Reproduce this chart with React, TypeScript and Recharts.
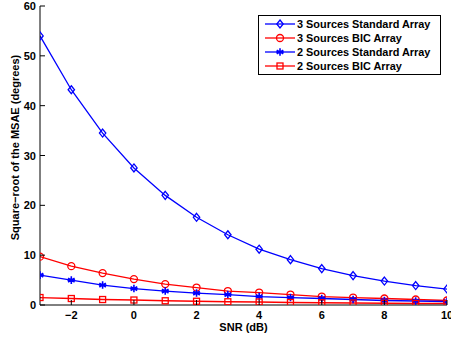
import React from "react";
import { LineChart, Line, XAxis, YAxis, Label } from "recharts";

const snr = [-3, -2, -1, 0, 1, 2, 3, 4, 5, 6, 7, 8, 9, 10];
const src3Std = [54.0, 43.2, 34.5, 27.5, 22.0, 17.6, 14.1, 11.2, 9.1, 7.3, 5.9, 4.8, 3.9, 3.2];
const src3Bic = [9.7, 7.8, 6.4, 5.2, 4.2, 3.5, 2.8, 2.5, 2.1, 1.7, 1.5, 1.3, 1.1, 0.9];
const src2Std = [6.0, 5.0, 4.0, 3.3, 2.8, 2.4, 2.1, 1.7, 1.5, 1.3, 1.1, 0.9, 0.8, 0.7];
const src2Bic = [1.5, 1.3, 1.1, 1.0, 0.85, 0.75, 0.65, 0.6, 0.5, 0.45, 0.4, 0.35, 0.3, 0.3];
const xTicks = [-2, 0, 2, 4, 6, 8, 10];
const yTicks = [0, 10, 20, 30, 40, 50, 60];
const seriesNames = [
  "3 Sources Standard Array",
  "3 Sources BIC Array",
  "2 Sources Standard Array",
  "2 Sources BIC Array",
];
const xLabel = "SNR (dB)";
const yLabel = "Square\u2212root of the MSAE (degrees)";

const data = snr.map((s, i) => ({
  snr: s,
  a: src3Std[i],
  b: src3Bic[i],
  c: src2Std[i],
  d: src2Bic[i],
}));

const FONT = "'Liberation Sans', Arial, sans-serif";
const BLUE = "#0000ff";
const RED = "#ff0000";

type Kind = "diamond" | "circle" | "star" | "square";

function marker(kind: Kind, cx: number, cy: number, color: string, key?: string | number) {
  const sw = 1.3;
  if (kind === "diamond") {
    const r = 4;
    return (
      <path key={key} d={`M${cx},${cy - r}L${cx + r * 0.8},${cy}L${cx},${cy + r}L${cx - r * 0.8},${cy}Z`} fill="none" stroke={color} strokeWidth={sw} />
    );
  }
  if (kind === "circle") {
    return <circle key={key} cx={cx} cy={cy} r={3.5} fill="none" stroke={color} strokeWidth={sw} />;
  }
  if (kind === "square") {
    return <rect key={key} x={cx - 3} y={cy - 3} width={6} height={6} fill="none" stroke={color} strokeWidth={sw} />;
  }
  const r = 3.8;
  const d = r * 0.866;
  return (
    <path
      key={key}
      d={`M${cx},${cy - r}L${cx},${cy + r}M${cx - d},${cy - r / 2}L${cx + d},${cy + r / 2}M${cx - d},${cy + r / 2}L${cx + d},${cy - r / 2}M${cx - r},${cy}L${cx + r},${cy}`}
      fill="none"
      stroke={color}
      strokeWidth={1.6}
    />
  );
}

const dotFn = (kind: Kind, color: string) => (props: any) => {
  const { cx, cy, index } = props;
  if (cx == null || cy == null) return <g key={index} />;
  return marker(kind, cx, cy, color, index);
};

const fmt = (v: number) => (v < 0 ? "\u2212" + Math.abs(v) : String(v));

const BottomTick = (props: any) => {
  const { x, y, payload } = props;
  return (
    <g>
      <line x1={x} y1={y} x2={x} y2={y - 5} stroke="#000" strokeWidth={1} />
      <text x={x} y={y + 14} textAnchor="middle" fontFamily={FONT} fontWeight="bold" fontSize={11} fill="#000">
        {fmt(payload.value)}
      </text>
    </g>
  );
};
const TopTick = (props: any) => {
  const { x, y } = props;
  return <line x1={x} y1={y} x2={x} y2={y + 5} stroke="#000" strokeWidth={1} />;
};
const LeftTick = (props: any) => {
  const { x, y, payload } = props;
  return (
    <g>
      <line x1={x} y1={y} x2={x + 5} y2={y} stroke="#000" strokeWidth={1} />
      <text x={x - 4} y={y + 4} textAnchor="end" fontFamily={FONT} fontWeight="bold" fontSize={11} fill="#000">
        {payload.value}
      </text>
    </g>
  );
};
const RightTick = (props: any) => {
  const { x, y } = props;
  return <line x1={x} y1={y} x2={x - 5} y2={y} stroke="#000" strokeWidth={1} />;
};

const YLabelContent = (props: any) => {
  const vb = props.viewBox || { x: 0, y: 6, width: 40, height: 299 };
  const cx = vb.x + 19;
  const cy = vb.y + vb.height / 2 - 8;
  return (
    <text
      transform={`translate(${cx},${cy}) rotate(-90)`}
      textAnchor="middle"
      fontFamily={FONT}
      fontWeight="bold"
      fontSize={11}
      fill="#000"
    >
      {yLabel}
    </text>
  );
};

const legendItems: { name: string; kind: Kind; color: string }[] = [
  { name: seriesNames[0], kind: "diamond", color: BLUE },
  { name: seriesNames[1], kind: "circle", color: RED },
  { name: seriesNames[2], kind: "star", color: BLUE },
  { name: seriesNames[3], kind: "square", color: RED },
];

const LegendBox = () => (
  <svg width={183} height={60} style={{ display: "block" }}>
    <rect x={0.5} y={0.5} width={182} height={59} fill="#fff" stroke="#000" strokeWidth={1} />
    {legendItems.map((it, i) => {
      const cy = 9 + i * 14;
      return (
        <g key={it.name}>
          <line x1={7} y1={cy} x2={37} y2={cy} stroke={it.color} strokeWidth={1.3} />
          {marker(it.kind, 22, cy, it.color)}
          <text x={39} y={cy + 4} fontFamily={FONT} fontWeight="bold" fontSize={10.9} fill="#000">
            {it.name}
          </text>
        </g>
      );
    })}
  </svg>
);

export default function App() {
  return (
    <div style={{ position: "absolute", left: 0, top: 0, width: 451, height: 341, background: "#fff" }}>
      <LineChart width={451} height={341} data={data} margin={{ top: 6, right: 4, bottom: 0, left: 0 }}>
        <XAxis
          xAxisId="b"
          dataKey="snr"
          type="number"
          domain={[-3, 10]}
          ticks={xTicks}
          allowDataOverflow
          height={36}
          tickSize={0}
          tickMargin={0}
          tick={<BottomTick />}
          axisLine={{ stroke: "#000", strokeWidth: 1 }}
          interval={0}
        >
          <Label
            value={xLabel}
            position="insideBottom"
            offset={10}
            style={{ fontFamily: FONT, fontWeight: "bold", fontSize: 11, fill: "#000" }}
          />
        </XAxis>
        <XAxis
          xAxisId="t"
          orientation="top"
          dataKey="snr"
          type="number"
          domain={[-3, 10]}
          ticks={xTicks}
          allowDataOverflow
          height={0}
          tickSize={0}
          tickMargin={0}
          tick={<TopTick />}
          axisLine={{ stroke: "#000", strokeWidth: 1 }}
          interval={0}
        />
        <YAxis
          yAxisId="l"
          type="number"
          domain={[0, 60]}
          ticks={yTicks}
          allowDataOverflow
          width={40}
          tickSize={0}
          tickMargin={0}
          tick={<LeftTick />}
          axisLine={{ stroke: "#000", strokeWidth: 1 }}
          interval={0}
        >
          <Label content={<YLabelContent />} />
        </YAxis>
        <YAxis
          yAxisId="r"
          orientation="right"
          type="number"
          domain={[0, 60]}
          ticks={yTicks}
          allowDataOverflow
          width={0}
          tickSize={0}
          tickMargin={0}
          tick={<RightTick />}
          axisLine={{ stroke: "#000", strokeWidth: 1 }}
          interval={0}
        />
        <Line xAxisId="b" yAxisId="l" dataKey="a" name={seriesNames[0]} stroke={BLUE} strokeWidth={1.3} dot={dotFn("diamond", BLUE)} isAnimationActive={false} />
        <Line xAxisId="b" yAxisId="l" dataKey="b" name={seriesNames[1]} stroke={RED} strokeWidth={1.3} dot={dotFn("circle", RED)} isAnimationActive={false} />
        <Line xAxisId="b" yAxisId="l" dataKey="c" name={seriesNames[2]} stroke={BLUE} strokeWidth={1.3} dot={dotFn("star", BLUE)} isAnimationActive={false} />
        <Line xAxisId="b" yAxisId="l" dataKey="d" name={seriesNames[3]} stroke={RED} strokeWidth={1.3} dot={dotFn("square", RED)} isAnimationActive={false} />
      </LineChart>
      <div style={{ position: "absolute", left: 258, top: 15, width: 183, height: 60 }}>
        <LegendBox />
      </div>
    </div>
  );
}
